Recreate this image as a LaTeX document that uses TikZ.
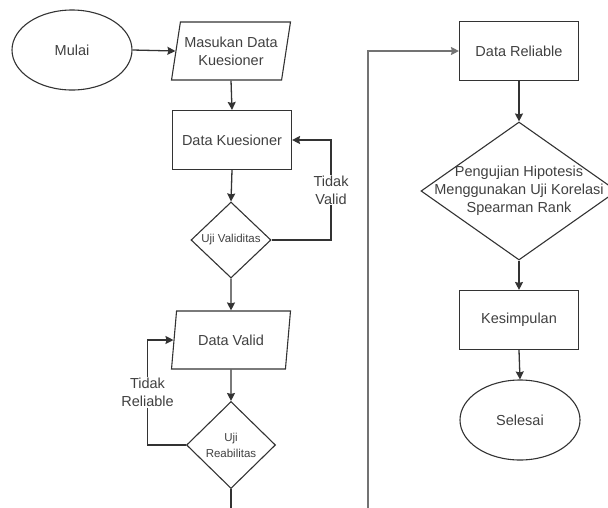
\documentclass[tikz,border=0pt]{standalone}
\usepackage{fontspec}
\setmainfont{Liberation Sans}
\usetikzlibrary{arrows.meta,shapes.geometric}
\tikzset{
	every node/.style={font=\fontsize{14.5}{18}\selectfont, text=black!75},
	flow/.style={line width=1.3pt, draw=black!80, -{Stealth[length=8pt,width=8pt,inset=1pt]}},
	wire/.style={line width=1.3pt, draw=black!80},
	terminal/.style={ellipse, draw=black!80, line width=1.1pt, minimum width=120pt, minimum height=80pt, inner sep=0pt},
	proc/.style={rectangle, draw=black!80, line width=1.1pt, minimum width=119pt, minimum height=59pt, inner sep=0pt, align=center},
	io/.style={trapezium, trapezium left angle=74, trapezium right angle=106, trapezium stretches=true, draw=black!80, line width=1.1pt, minimum width=119pt, minimum height=58pt, inner sep=0pt, align=center},
	decide/.style={diamond, draw=black!80, line width=1.1pt, inner sep=0pt},
	small/.style={font=\fontsize{11.5}{16}\selectfont, text=black!75, align=center},
	lbl/.style={fill=white, align=center, inner sep=1pt}
}

\begin{document}
\begin{tikzpicture}[x=1pt, y=-1pt]
			%%%%% START %%%%%
			\clip (0, 0) rectangle (608, 507);
			
			% left column
			\node[terminal] (mulai) at (72, 50) {Mulai};
			\node[io] (masukan) at (231, 51) {Masukan Data\\Kuesioner};
			\node[proc] (dkues) at (232, 140) {Data Kuesioner};
			\node[decide, minimum width=80pt, minimum height=76pt, label={[small]center:Uji Validitas}] (ujival) at (231, 240) {};
			\node[io] (dvalid) at (231, 340) {Data Valid};
			\node[decide, minimum width=89pt, minimum height=87pt, label={[small]center:Uji\\Reabilitas}] (ujireab) at (231, 445) {};
			\coordinate (bawah1) at (231, 510);
			
			% right column
			\coordinate (bawah2) at (368, 510);
			\node[proc] (reliable) at (519, 51) {Data Reliable};
			\node[decide, minimum width=196pt, minimum height=138pt, label={[align=center]center:Pengujian Hipotesis\\Menggunakan Uji Korelasi\\Spearman Rank}] (hipotesis) at (519, 191) {};
			\node[proc] (simpulan) at (519, 320) {Kesimpulan};
			\node[terminal] (selesai) at (520, 420) {Selesai};
			
			% arrows
			\draw[flow] (mulai.east) -- (masukan.west);
			\draw[flow] (masukan.south) -- (dkues.north);
			\draw[flow] (dkues.south) -- (ujival.north);
			\draw[flow] (ujival.east) -| node[lbl, pos=0.75] {Tidak\\Valid} ([xshift=39pt]dkues.east) -- (dkues.east);
			\draw[flow] (ujival.south) -- (dvalid.north);
			\draw[flow] (dvalid.south) -- (ujireab.north);
			\draw[flow] (ujireab.west) -| node[lbl, pos=0.75] {Tidak\\Reliable} ([xshift=-26pt]dvalid.west) -- (dvalid.west);
			\draw[wire] (ujireab.south) -- (bawah1);
			
			\draw[flow, draw=black!55, line width=1.6pt] (bawah2) |- (reliable.west);
			\draw[flow] (reliable.south) -- (hipotesis.north);
			\draw[flow] (hipotesis.south) -- (simpulan.north);
			\draw[flow] (simpulan.south) -- (selesai.north);
			%%%%% END %%%%%
\end{tikzpicture}
\end{document}
